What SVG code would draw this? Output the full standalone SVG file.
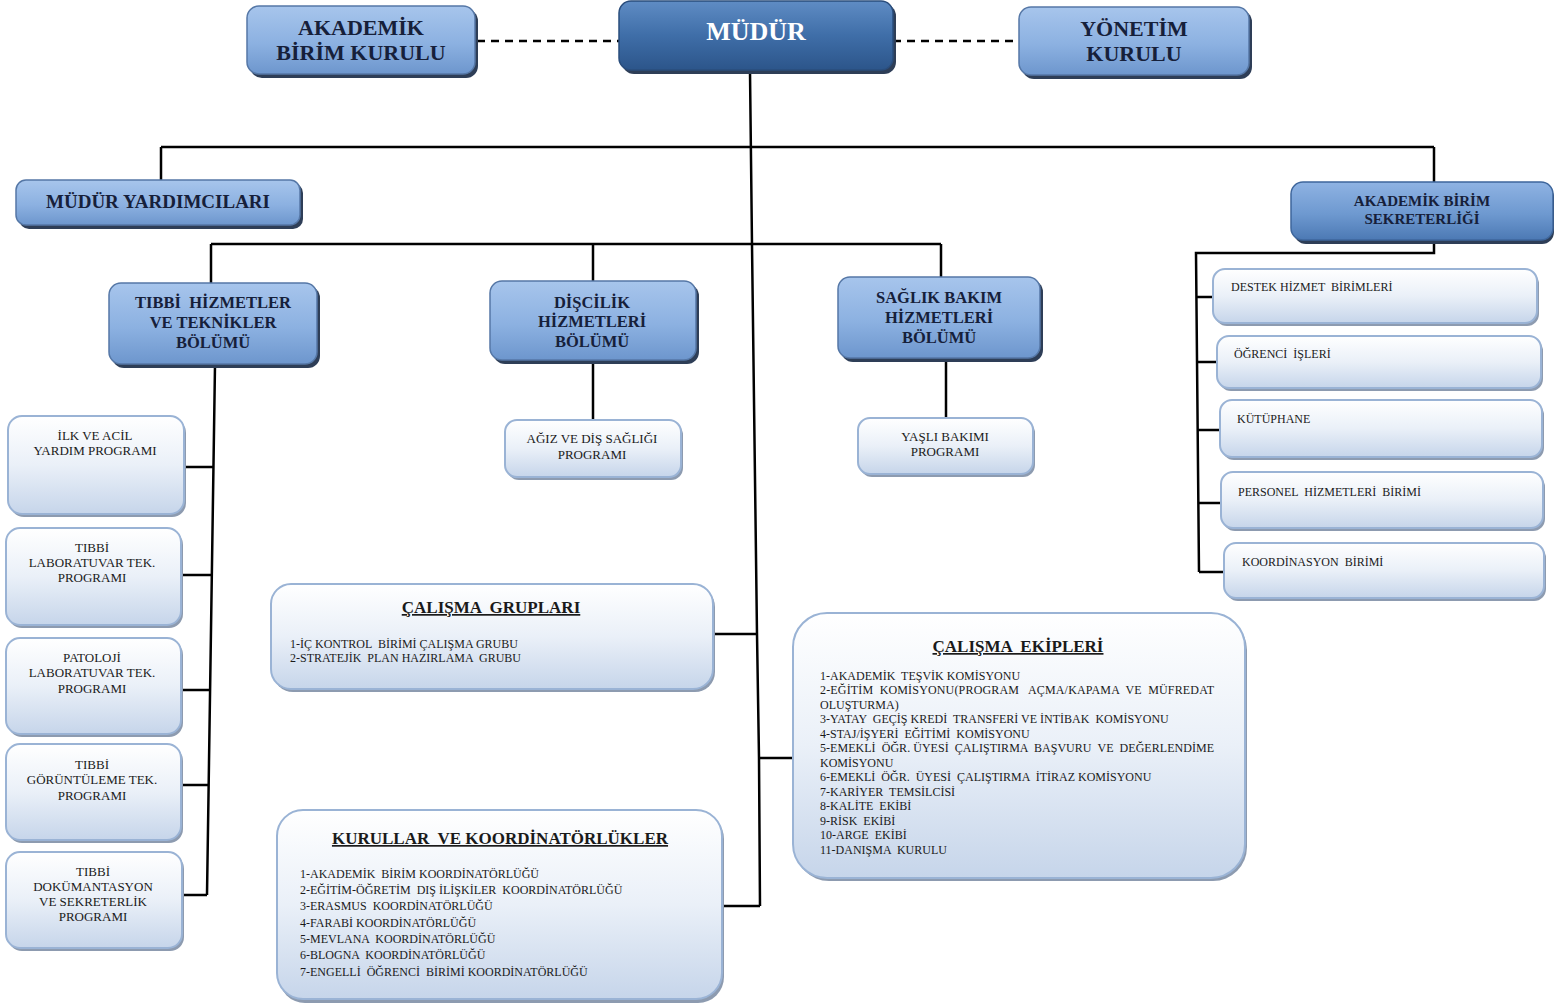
<svg xmlns="http://www.w3.org/2000/svg" width="1554" height="1005" viewBox="0 0 1554 1005" xml:space="preserve">
<defs>
<linearGradient id="gDept" x1="0" y1="0" x2="0" y2="1">
<stop offset="0" stop-color="#a7c5ec"/><stop offset="0.55" stop-color="#8cb1e1"/><stop offset="1" stop-color="#6d96cd"/>
</linearGradient>
<linearGradient id="gDark" x1="0" y1="0" x2="0" y2="1">
<stop offset="0" stop-color="#5f8cc4"/><stop offset="0.5" stop-color="#3f6ea8"/><stop offset="1" stop-color="#2c558a"/>
</linearGradient>
<linearGradient id="gMid" x1="0" y1="0" x2="0" y2="1">
<stop offset="0" stop-color="#8fb3e3"/><stop offset="0.55" stop-color="#6e99d0"/><stop offset="1" stop-color="#4c79b4"/>
</linearGradient>
<linearGradient id="gLight" x1="0" y1="0" x2="0" y2="1">
<stop offset="0" stop-color="#ffffff"/><stop offset="0.5" stop-color="#eaf0f8"/><stop offset="1" stop-color="#c6d5ea"/>
</linearGradient>
<style>
text{white-space:pre}
.sh{fill:#2e3e57}
.lsh{fill:#8d9bb0}
.dept{fill:url(#gDept);stroke:#5577a6;stroke-width:1.5}
.dark{fill:url(#gDark);stroke:#2a4d7c;stroke-width:1.5}
.mid{fill:url(#gMid);stroke:#3e669c;stroke-width:1.5}
.light{fill:url(#gLight);stroke:#9ab3d5;stroke-width:2}
.bt{font-family:"Liberation Serif","Times New Roman",serif;font-weight:bold;fill:#16203a;text-anchor:middle}
.wt{font-family:"Liberation Serif","Times New Roman",serif;font-weight:bold;fill:#ffffff;text-anchor:middle}
.pt{font-family:"Liberation Serif","Times New Roman",serif;font-size:13px;fill:#1a1a1a;text-anchor:middle}
.it{font-family:"Liberation Serif","Times New Roman",serif;font-size:12px;fill:#1a1a1a}
.tt{font-family:"Liberation Serif","Times New Roman",serif;font-weight:bold;font-size:17px;fill:#1a1a1a;text-anchor:middle;text-decoration:underline}
.ln{fill:none;stroke:#000;stroke-width:2.5}
.dash{fill:none;stroke:#000;stroke-width:2.5;stroke-dasharray:8,6}
</style>
</defs>
<rect width="1554" height="1005" fill="#ffffff"/>

<g id="connectors">
<path class="dash" d="M477,41 H619 M893,41 H1019"/>
<polyline class="ln" points="750,72 752,245 757,634 759,758 760,906"/>
<path class="ln" d="M161,147 H1434 M161,147 V180 M1434,147 V182"/>
<path class="ln" d="M211,244 H941 M211,244 V283 M593,244 V281 M941,244 V277"/>
<path class="ln" d="M215,365 L207,895 M183,467 H213 M181,575 H211 M181,690 H210 M181,785 H209 M183,895 H207"/>
<path class="ln" d="M593,361 V420 M946,359 V418"/>
<path class="ln" d="M1434,241 V253 H1196 L1199,572 M1196,297 H1213 M1197,362 H1217 M1198,430 H1220 M1198,503 H1221 M1199,572 H1224"/>
<path class="ln" d="M713,634 H757 M759,758 H793 M723,906 H760"/>
</g>

<g id="akademik-birim-kurulu">
<rect class="sh" x="250" y="9" width="228" height="69" rx="12"/>
<rect class="dept" x="247" y="6" width="228" height="68" rx="12"/>
<text class="bt" font-size="22" x="361" y="35">AKADEMİK</text>
<text class="bt" font-size="22" x="361" y="60">BİRİM KURULU</text>
</g>

<g id="mudur">
<rect class="sh" x="622" y="4" width="274" height="70" rx="12"/>
<rect class="dark" x="619" y="1" width="274" height="69" rx="12"/>
<text class="wt" font-size="26" x="756" y="40">MÜDÜR</text>
</g>

<g id="yonetim-kurulu">
<rect class="sh" x="1022" y="10" width="230" height="69" rx="12"/>
<rect class="dept" x="1019" y="7" width="230" height="68" rx="12"/>
<text class="bt" font-size="22" x="1134" y="36">YÖNETİM</text>
<text class="bt" font-size="22" x="1134" y="61">KURULU</text>
</g>

<g id="mudur-yardimcilari">
<rect class="sh" x="19" y="183" width="284" height="46" rx="10"/>
<rect class="dept" x="16" y="180" width="284" height="45" rx="10"/>
<text class="bt" font-size="19" x="158" y="208">MÜDÜR YARDIMCILARI</text>
</g>

<g id="akademik-birim-sekreterligi">
<rect class="sh" x="1294" y="185" width="260" height="59" rx="12"/>
<rect class="mid" x="1291" y="182" width="262" height="58" rx="12"/>
<text class="bt" font-size="15" x="1422" y="206">AKADEMİK BİRİM</text>
<text class="bt" font-size="15" x="1422" y="224">SEKRETERLİĞİ</text>
</g>

<g id="tibbi-hizmetler">
<rect class="sh" x="112" y="286" width="208" height="82" rx="12"/>
<rect class="dept" x="109" y="283" width="208" height="81" rx="12"/>
<text class="bt" font-size="16.5" x="213" y="308">TIBBİ  HİZMETLER</text>
<text class="bt" font-size="16.5" x="213" y="328">VE TEKNİKLER</text>
<text class="bt" font-size="16.5" x="213" y="348">BÖLÜMÜ</text>
</g>

<g id="discilik">
<rect class="sh" x="493" y="284" width="206" height="80" rx="12"/>
<rect class="dept" x="490" y="281" width="206" height="79" rx="12"/>
<text class="bt" font-size="16.5" x="592" y="308">DİŞCİLİK</text>
<text class="bt" font-size="16.5" x="592" y="327">HİZMETLERİ</text>
<text class="bt" font-size="16.5" x="592" y="347">BÖLÜMÜ</text>
</g>

<g id="saglik-bakim">
<rect class="sh" x="841" y="280" width="202" height="82" rx="12"/>
<rect class="dept" x="838" y="277" width="202" height="81" rx="12"/>
<text class="bt" font-size="16.5" x="939" y="303">SAĞLIK BAKIM</text>
<text class="bt" font-size="16.5" x="939" y="323">HİZMETLERİ</text>
<text class="bt" font-size="16.5" x="939" y="343">BÖLÜMÜ</text>
</g>

<g id="ilk-ve-acil">
<rect class="lsh" x="10" y="419" width="176" height="98" rx="14"/>
<rect class="light" x="8" y="416" width="176" height="98" rx="14"/>
<text class="pt" x="95" y="440">İLK VE ACİL</text>
<text class="pt" x="95" y="455">YARDIM PROGRAMI</text>
</g>

<g id="tibbi-laboratuvar">
<rect class="lsh" x="8" y="531" width="175" height="97" rx="14"/>
<rect class="light" x="6" y="528" width="175" height="97" rx="14"/>
<text class="pt" x="92" y="552">TIBBİ</text>
<text class="pt" x="92" y="567">LABORATUVAR TEK.</text>
<text class="pt" x="92" y="582">PROGRAMI</text>
</g>

<g id="patoloji">
<rect class="lsh" x="8" y="641" width="175" height="96" rx="14"/>
<rect class="light" x="6" y="638" width="175" height="96" rx="14"/>
<text class="pt" x="92" y="662">PATOLOJİ</text>
<text class="pt" x="92" y="677">LABORATUVAR TEK.</text>
<text class="pt" x="92" y="693">PROGRAMI</text>
</g>

<g id="tibbi-goruntuleme">
<rect class="lsh" x="8" y="747" width="175" height="96" rx="14"/>
<rect class="light" x="6" y="744" width="175" height="96" rx="14"/>
<text class="pt" x="92" y="769">TIBBİ</text>
<text class="pt" x="92" y="784">GÖRÜNTÜLEME TEK.</text>
<text class="pt" x="92" y="800">PROGRAMI</text>
</g>

<g id="tibbi-dokumantasyon">
<rect class="lsh" x="8" y="855" width="176" height="96" rx="14"/>
<rect class="light" x="6" y="852" width="176" height="96" rx="14"/>
<text class="pt" x="93" y="876">TIBBİ</text>
<text class="pt" x="93" y="891">DOKÜMANTASYON</text>
<text class="pt" x="93" y="906">VE SEKRETERLİK</text>
<text class="pt" x="93" y="921">PROGRAMI</text>
</g>

<g id="agiz-ve-dis">
<rect class="lsh" x="507" y="423" width="176" height="57" rx="12"/>
<rect class="light" x="505" y="420" width="176" height="57" rx="12"/>
<text class="pt" x="592" y="443">AĞIZ VE DİŞ SAĞLIĞI</text>
<text class="pt" x="592" y="459">PROGRAMI</text>
</g>

<g id="yasli-bakimi">
<rect class="lsh" x="860" y="421" width="175" height="56" rx="12"/>
<rect class="light" x="858" y="418" width="175" height="56" rx="12"/>
<text class="pt" x="945" y="441">YAŞLI BAKIMI</text>
<text class="pt" x="945" y="456">PROGRAMI</text>
</g>

<g id="destek-hizmet">
<rect class="lsh" x="1215" y="272" width="324" height="54" rx="12"/>
<rect class="light" x="1213" y="269" width="324" height="54" rx="12"/>
<text class="it" x="1231" y="291">DESTEK HİZMET  BİRİMLERİ</text>
</g>

<g id="ogrenci-isleri">
<rect class="lsh" x="1219" y="339" width="324" height="52" rx="12"/>
<rect class="light" x="1217" y="336" width="324" height="52" rx="12"/>
<text class="it" x="1234" y="358">ÖĞRENCİ  İŞLERİ</text>
</g>

<g id="kutuphane">
<rect class="lsh" x="1222" y="403" width="322" height="57" rx="12"/>
<rect class="light" x="1220" y="400" width="322" height="57" rx="12"/>
<text class="it" x="1237" y="423">KÜTÜPHANE</text>
</g>

<g id="personel-hizmetleri">
<rect class="lsh" x="1223" y="475" width="322" height="56" rx="12"/>
<rect class="light" x="1221" y="472" width="322" height="56" rx="12"/>
<text class="it" x="1238" y="496">PERSONEL  HİZMETLERİ  BİRİMİ</text>
</g>

<g id="koordinasyon-birimi">
<rect class="lsh" x="1226" y="546" width="320" height="55" rx="12"/>
<rect class="light" x="1224" y="543" width="320" height="55" rx="12"/>
<text class="it" x="1242" y="566">KOORDİNASYON  BİRİMİ</text>
</g>

<g id="calisma-gruplari">
<rect class="lsh" x="273" y="587" width="442" height="105" rx="20"/>
<rect class="light" x="271" y="584" width="442" height="105" rx="20"/>
<text class="tt" x="491" y="613">ÇALIŞMA  GRUPLARI</text>
<text class="it" x="290" y="648">1-İÇ KONTROL  BİRİMİ ÇALIŞMA GRUBU</text>
<text class="it" x="290" y="662">2-STRATEJİK  PLAN HAZIRLAMA  GRUBU</text>
</g>

<g id="kurullar-ve-koordinatorlukler">
<rect class="lsh" x="279" y="813" width="445" height="190" rx="26"/>
<rect class="light" x="277" y="810" width="445" height="189" rx="26"/>
<text class="tt" x="500" y="844">KURULLAR  VE KOORDİNATÖRLÜKLER</text>
<text class="it" x="300" y="878">1-AKADEMİK  BİRİM KOORDİNATÖRLÜĞÜ</text>
<text class="it" x="300" y="894">2-EĞİTİM-ÖĞRETİM  DIŞ İLİŞKİLER  KOORDİNATÖRLÜĞÜ</text>
<text class="it" x="300" y="910">3-ERASMUS  KOORDİNATÖRLÜĞÜ</text>
<text class="it" x="300" y="927">4-FARABİ KOORDİNATÖRLÜĞÜ</text>
<text class="it" x="300" y="943">5-MEVLANA  KOORDİNATÖRLÜĞÜ</text>
<text class="it" x="300" y="959">6-BLOGNA  KOORDİNATÖRLÜĞÜ</text>
<text class="it" x="300" y="976">7-ENGELLİ  ÖĞRENCİ  BİRİMİ KOORDİNATÖRLÜĞÜ</text>
</g>

<g id="calisma-ekipleri">
<rect class="lsh" x="795" y="616" width="452" height="265" rx="34"/>
<rect class="light" x="793" y="613" width="452" height="265" rx="34"/>
<text class="tt" x="1018" y="652">ÇALIŞMA  EKİPLERİ</text>
<text class="it" x="820" y="680">1-AKADEMİK  TEŞVİK KOMİSYONU</text>
<text class="it" x="820" y="694" textLength="394" lengthAdjust="spacing">2-EĞİTİM  KOMİSYONU(PROGRAM   AÇMA/KAPAMA  VE  MÜFREDAT</text>
<text class="it" x="820" y="709">OLUŞTURMA)</text>
<text class="it" x="820" y="723">3-YATAY  GEÇİŞ KREDİ  TRANSFERİ VE İNTİBAK  KOMİSYONU</text>
<text class="it" x="820" y="738">4-STAJ/İŞYERİ  EĞİTİMİ  KOMİSYONU</text>
<text class="it" x="820" y="752" textLength="394" lengthAdjust="spacing">5-EMEKLİ  ÖĞR. ÜYESİ  ÇALIŞTIRMA  BAŞVURU  VE  DEĞERLENDİME</text>
<text class="it" x="820" y="767">KOMİSYONU</text>
<text class="it" x="820" y="781">6-EMEKLİ  ÖĞR.  ÜYESİ  ÇALIŞTIRMA  İTİRAZ KOMİSYONU</text>
<text class="it" x="820" y="796">7-KARİYER  TEMSİLCİSİ</text>
<text class="it" x="820" y="810">8-KALİTE  EKİBİ</text>
<text class="it" x="820" y="825">9-RİSK  EKİBİ</text>
<text class="it" x="820" y="839">10-ARGE  EKİBİ</text>
<text class="it" x="820" y="854">11-DANIŞMA  KURULU</text>
</g>
</svg>
